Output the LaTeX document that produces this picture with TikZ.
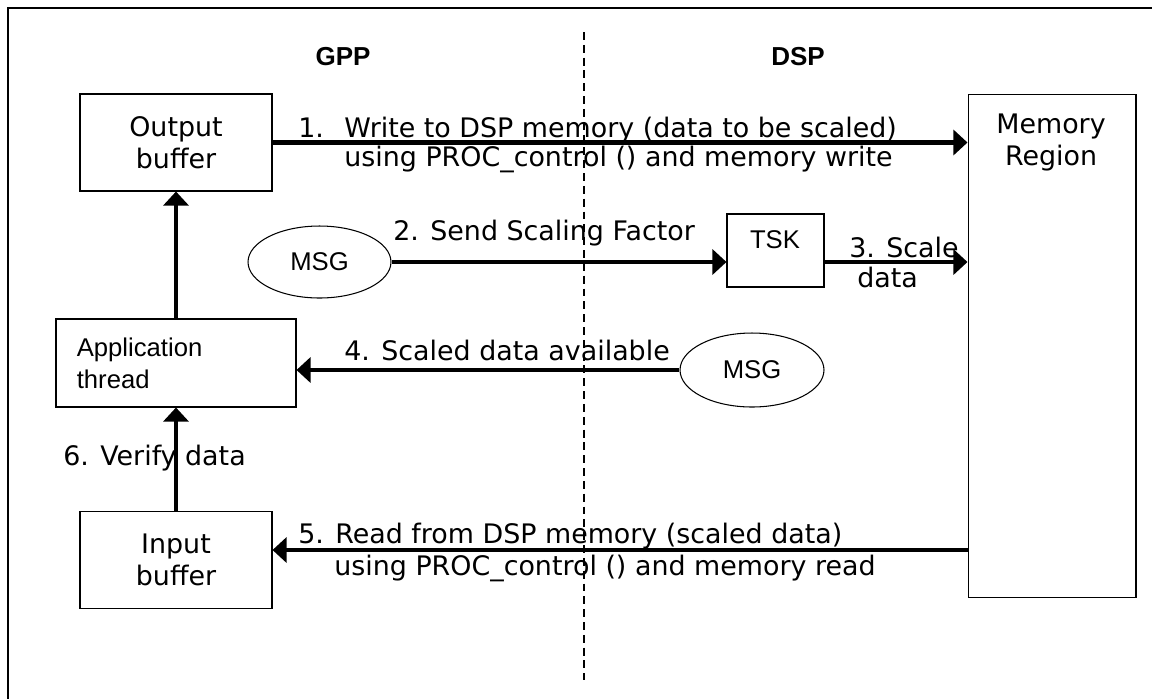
\documentclass[tikz,border=0pt]{standalone}
\usepackage{fontspec}
\setmainfont{DejaVu Sans}
\newfontfamily\arialfont{Liberation Sans}
\usetikzlibrary{arrows.meta,shapes.geometric}

\tikzset{
	box/.style={draw,line width=0.6pt,minimum width=3.84cm,minimum height=1.94cm,inner sep=0pt,font=\fontsize{15.3}{18.2}\selectfont},
	msg/.style={draw,ellipse,line width=0.6pt,minimum width=2.86cm,minimum height=1.44cm,inner sep=0pt,font=\arialfont\fontsize{14.6}{17}\selectfont},
	arial/.style={inner sep=0pt,font=\arialfont\fontsize{14.6}{18.2}\selectfont},
	head/.style={anchor=base,inner sep=0pt,font=\arialfont\bfseries\fontsize{14.8}{17}\selectfont},
	txt/.style={anchor=base west,inner sep=0pt,font=\fontsize{15.3}{18.2}\selectfont},
	flow/.style={line width=2.3pt,-{Triangle[length=8pt,width=14.2pt]}}
}

\begin{document}
\begin{tikzpicture}[x=0.02cm,y=-0.02cm]
			\clip (0,0) rectangle (1152,698);
			\draw[line width=1.1pt] (7.7,8) rectangle (1175,720);

			\coordinate (top) at (584,32);
			\coordinate (bot) at (584,680);
			\draw[line width=0.6pt,dash pattern=on 4.5pt off 2.8pt] (top) -- (bot);

			\node[head] (gpp) at (343,65) {GPP};
			\node[head] (dsp) at (798,65) {DSP};

			\node[box,align=center] (outbuf) at (176,142.5) {Output\\buffer};
			\node[box,minimum width=3.36cm,minimum height=10.08cm] (mem) at (1052,346) {};
			\node[align=center,inner sep=0pt,font=\fontsize{15.3}{18.2}\selectfont] (memtxt) at (1051,142) {Memory\\Region};
			\node[msg] (msga) at (319.5,262) {MSG};
			\node[box,minimum width=1.94cm,minimum height=1.46cm] (tsk) at (775.5,250.5) {};
			\node[arial,anchor=base] (tsktxt) at (775,248) {TSK};
			\node[box,minimum width=4.8cm,minimum height=1.76cm] (app) at (176,363) {};
			\node[arial,anchor=west,align=left] (apptxt) at (76.5,363) {Application\\thread};
			\node[msg,minimum width=2.88cm,minimum height=1.48cm] (msgb) at (752,370) {MSG};
			\node[box,align=center] (inbuf) at (176,560) {Input\\buffer};

			\coordinate (rd) at ([yshift=0.2cm]inbuf.east);

			\draw[flow] (outbuf.east) -- (outbuf.east -| mem.west);
			\draw[flow] (msga.east) -- (msga.east -| tsk.west);
			\draw[flow] (msga.east -| tsk.east) -- (msga.east -| mem.west);
			\draw[flow] (msgb.west) -- (msgb.west -| app.east);
			\draw[flow] (app.north) -- (outbuf.south);
			\draw[flow] (inbuf.north) -- (app.south);
			\draw[flow] (rd -| mem.west) -- (rd);

			\node[txt] (l1n) at (298,137) {1.};
			\node[txt] (l1a) at (344,137) {Write to DSP memory (data to be scaled)};
			\node[txt] (l1b) at (344,166) {using PROC\_control () and memory write};
			\node[txt] (l2) at (393,240) {2. Send Scaling Factor};
			\node[txt] (l3a) at (849,257) {3. Scale};
			\node[txt] (l3b) at (857,287) {data};
			\node[txt] (l4) at (344,360) {4. Scaled data available};
			\node[txt] (l6) at (63,465) {6. Verify data};
			\node[txt] (l5a) at (298,543) {5. Read from DSP memory (scaled data)};
			\node[txt] (l5b) at (334,575) {using PROC\_control () and memory read};
\end{tikzpicture}
\end{document}
